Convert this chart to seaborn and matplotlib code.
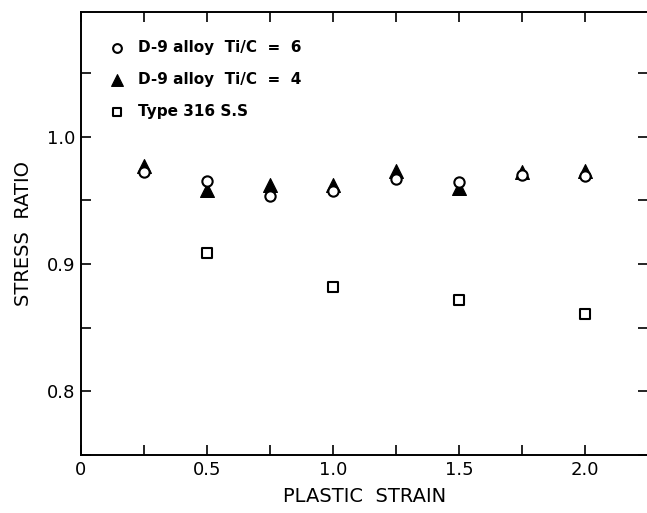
import matplotlib
matplotlib.use("Agg")
import matplotlib.pyplot as plt
import seaborn as sns
import pandas as pd
from matplotlib.ticker import MultipleLocator

strain = [0.25, 0.5, 0.75, 1.0, 1.25, 1.5, 1.75, 2.0]
d9_tic6 = [0.972, 0.965, 0.953, 0.957, 0.967, 0.964, 0.970, 0.969]
d9_tic4 = [0.977, 0.958, 0.962, 0.962, 0.973, 0.960, 0.972, 0.973]
strain_316 = [0.5, 1.0, 1.5, 2.0]
ss316 = [0.909, 0.882, 0.872, 0.861]

labels = ["D-9 alloy  Ti/C  =  6", "D-9 alloy  Ti/C  =  4", "Type 316 S.S"]

sns.set_theme(style="ticks")
plt.rcParams['font.family'] = ['DejaVu Sans']
plt.rcParams['text.color'] = 'black'
plt.rcParams['axes.labelcolor'] = 'black'

fig = plt.figure(figsize=(6.47, 5.13), dpi=100)
ax = fig.add_axes([0.125, 0.113, 0.877, 0.864])

df6 = pd.DataFrame({"x": strain, "y": d9_tic6})
df4 = pd.DataFrame({"x": strain, "y": d9_tic4})
df3 = pd.DataFrame({"x": strain_316, "y": ss316})

sns.scatterplot(data=df6, x="x", y="y", marker="o", s=55, facecolor="white",
                edgecolor="black", linewidth=1.5, label=labels[0], ax=ax, zorder=3)
sns.scatterplot(data=df4, x="x", y="y", marker="^", s=100, color="black",
                edgecolor="black", linewidth=0.8, label=labels[1], ax=ax, zorder=2)
sns.scatterplot(data=df3, x="x", y="y", marker="s", s=50, facecolor="white",
                edgecolor="black", linewidth=1.5, label=labels[2], ax=ax, zorder=3)

ax.set_xlim(0, 2.25)
ax.set_ylim(0.75, 1.098)
ax.xaxis.set_minor_locator(MultipleLocator(0.25))
ax.yaxis.set_minor_locator(MultipleLocator(0.05))
ax.set_xticks([0, 0.5, 1.0, 1.5, 2.0])
ax.set_xticklabels(["0", "0.5", "1.0", "1.5", "2.0"])
ax.set_yticks([0.8, 0.9, 1.0])
ax.set_yticklabels(["0.8", "0.9", "1.0"])

ax.tick_params(which="both", direction="in", top=True, right=True, width=1.2,
               labelsize=13, colors="black")
ax.tick_params(which="major", length=7, pad=4)
ax.tick_params(which="minor", length=7)
for sp in ax.spines.values():
    sp.set_linewidth(1.4)
    sp.set_color("black")

ax.set_xlabel("PLASTIC  STRAIN", fontsize=14, labelpad=6)
ax.set_ylabel("STRESS  RATIO", fontsize=14, labelpad=10)

leg = ax.legend(loc="upper left", bbox_to_anchor=(0.018, 0.96), frameon=False,
                fontsize=11, handletextpad=0.4, labelspacing=1.1, borderaxespad=0.3,
                markerscale=0.85)
for t in leg.get_texts():
    t.set_fontweight("bold")
    t.set_color("black")

fig.savefig("out.png", dpi=100)
